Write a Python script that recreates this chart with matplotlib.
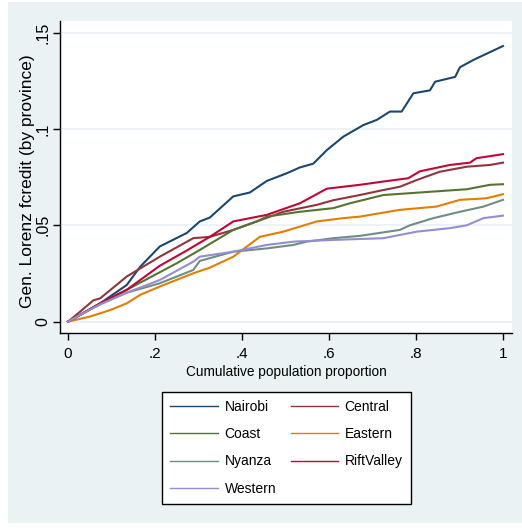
import matplotlib
matplotlib.use('Agg')
import matplotlib.pyplot as plt
from matplotlib.patches import Rectangle

# generalized Lorenz curves of credit
provinces = ['Nairobi', 'Central', 'Coast', 'Eastern', 'Nyanza', 'RiftValley', 'Western']

nairobi_x = [0, 0.028, 0.074, 0.135, 0.166, 0.211, 0.273, 0.303, 0.326, 0.38, 0.418, 0.457,
             0.503, 0.533, 0.564, 0.595, 0.633, 0.679, 0.71, 0.74, 0.767, 0.794, 0.832,
             0.844, 0.89, 0.901, 0.932, 0.962, 1.0]
nairobi_y = [0, 0.0035, 0.0095, 0.019, 0.0285, 0.039, 0.046, 0.052, 0.054, 0.065, 0.067, 0.073,
             0.077, 0.080, 0.082, 0.089, 0.096, 0.102, 0.1047, 0.109, 0.109, 0.1185, 0.120,
             0.1245, 0.127, 0.132, 0.1358, 0.139, 0.143]

central_x = [0, 0.028, 0.058, 0.074, 0.135, 0.211, 0.288, 0.326, 0.38, 0.434, 0.495, 0.572,
             0.61, 0.671, 0.725, 0.763, 0.802, 0.855, 0.917, 0.97, 1.0]
central_y = [0, 0.0052, 0.011, 0.0121, 0.0234, 0.0337, 0.0433, 0.044, 0.0476, 0.052, 0.057,
             0.0606, 0.063, 0.0657, 0.0683, 0.070, 0.0735, 0.0778, 0.0804, 0.0813, 0.0825]

coast_x = [0, 0.028, 0.074, 0.135, 0.25, 0.303, 0.38, 0.434, 0.457, 0.533, 0.61, 0.648,
           0.725, 0.84, 0.917, 0.97, 1.0]
coast_y = [0, 0.0035, 0.0095, 0.0165, 0.0303, 0.0372, 0.0476, 0.052, 0.0545, 0.057, 0.0589,
           0.0614, 0.0657, 0.0675, 0.0687, 0.071, 0.0713]

eastern_x = [0, 0.05, 0.097, 0.135, 0.166, 0.211, 0.288, 0.326, 0.38, 0.441, 0.495, 0.533,
             0.572, 0.633, 0.671, 0.763, 0.847, 0.901, 0.962, 1.0]
eastern_y = [0, 0.0026, 0.006, 0.0095, 0.0139, 0.0182, 0.0251, 0.028, 0.0337, 0.044, 0.0467,
             0.0493, 0.052, 0.0537, 0.0545, 0.058, 0.0597, 0.0632, 0.064, 0.0661]

nyanza_x = [0, 0.028, 0.074, 0.135, 0.211, 0.288, 0.303, 0.38, 0.457, 0.518, 0.549, 0.61,
            0.671, 0.763, 0.786, 0.84, 0.901, 0.955, 1.0]
nyanza_y = [0, 0.0035, 0.009, 0.015, 0.0199, 0.0268, 0.0315, 0.0363, 0.038, 0.0398, 0.0415,
            0.0433, 0.0445, 0.0476, 0.050, 0.0537, 0.057, 0.0597, 0.0632]

rift_x = [0, 0.028, 0.074, 0.135, 0.211, 0.27, 0.326, 0.38, 0.457, 0.533, 0.595, 0.671,
          0.725, 0.782, 0.809, 0.878, 0.924, 0.939, 1.0]
rift_y = [0, 0.0035, 0.0095, 0.0165, 0.029, 0.0365, 0.044, 0.052, 0.0554, 0.0614, 0.069,
          0.071, 0.0727, 0.0744, 0.078, 0.0813, 0.0825, 0.0848, 0.0869]

western_x = [0, 0.028, 0.074, 0.135, 0.211, 0.288, 0.303, 0.38, 0.457, 0.518, 0.61, 0.725,
             0.802, 0.878, 0.917, 0.955, 1.0]
western_y = [0, 0.0035, 0.009, 0.015, 0.0216, 0.0311, 0.0337, 0.0363, 0.0398, 0.0415, 0.0424,
             0.0433, 0.0467, 0.0485, 0.050, 0.0537, 0.055]

xticks = [0, 0.2, 0.4, 0.6, 0.8, 1.0]
xtick_labels = ['0', '.2', '.4', '.6', '.8', '1']
yticks = [0, 0.05, 0.1, 0.15]
ytick_labels = ['0', '.05', '.1', '.15']

series = [(nairobi_x, nairobi_y), (central_x, central_y), (coast_x, coast_y),
          (eastern_x, eastern_y), (nyanza_x, nyanza_y), (rift_x, rift_y),
          (western_x, western_y)]
colors = ['#1A476F', '#90353B', '#55752F', '#E37E00', '#6E8E84', '#C10534', '#938DD2']

font = ['Liberation Sans', 'DejaVu Sans']
bg = '#EAF2F3'

W, H = 522, 529
fig = plt.figure(figsize=(W / 100, H / 100), dpi=100, facecolor='white')
fig.patches.append(Rectangle((8 / W, 1 - 523 / H), (W - 8) / W, 521 / H,
                             transform=fig.transFigure, facecolor=bg,
                             edgecolor='none', zorder=-10))

ax = fig.add_axes([60 / W, 1 - 333 / H, 452 / W, 312 / H])
ax.set_facecolor('white')

lines = []
for (xs, ys), c, name in zip(series, colors, provinces):
    ln, = ax.plot(xs, ys, color=c, lw=1.5, label=name)
    lines.append(ln)

ax.set_xlim(-0.0184, 1.0207)
ax.set_ylim(-0.0059, 0.156)
for yv in yticks:
    ax.axhline(yv, color=bg, lw=1.3, zorder=0)

ax.spines['top'].set_visible(False)
ax.spines['right'].set_visible(False)
ax.spines['left'].set_linewidth(1.0)
ax.spines['bottom'].set_linewidth(1.0)

ax.set_xticks(xticks)
ax.set_xticklabels(xtick_labels, family=font, fontsize=11)
ax.set_yticks(yticks)
ax.set_yticklabels(ytick_labels, family=font, fontsize=11.5, rotation=90, va='center')
ax.tick_params(direction='out', length=5, width=1, color='black')
ax.tick_params(axis='x', pad=5)
ax.tick_params(axis='y', pad=2)

fig.text(28 / W, 1 - 181 / H, 'Gen. Lorenz fcredit (by province)', rotation=90,
         ha='center', va='center', family=font, fontsize=12.5)
fig.text(286 / W, 1 - 372 / H, 'Cumulative population proportion',
         ha='center', va='center', family=font, fontsize=9.8)

# legend fills column by column: reorder to get the row-wise Stata layout
order = [0, 2, 4, 6, 1, 3, 5]
leg = fig.legend([lines[i] for i in order], [provinces[i] for i in order],
                 loc='upper left', bbox_to_anchor=(162 / W, 1 - 397 / H, 249 / W, 0.01),
                 mode='expand', ncol=2, fancybox=False, framealpha=1,
                 prop={'family': font, 'size': 10}, handlelength=3.4,
                 handletextpad=0.5, labelspacing=0.95, columnspacing=1.5,
                 borderaxespad=0, borderpad=0.6)
leg.get_frame().set_edgecolor('black')
leg.get_frame().set_linewidth(1.0)
for ln in leg.get_lines():
    ln.set_linewidth(1.0)

fig.savefig('out.png', dpi=100, facecolor=fig.get_facecolor())
